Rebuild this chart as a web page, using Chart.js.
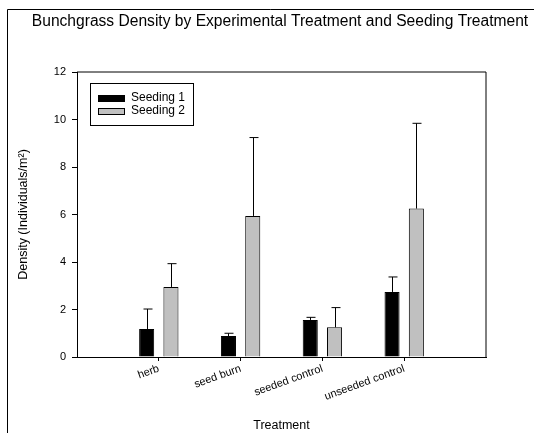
<!DOCTYPE html>
<html>
<head>
<meta charset="utf-8">
<script src="https://cdn.jsdelivr.net/npm/chart.js@4"></script>
<style>
  html, body { margin: 0; padding: 0; background: #fff; }
  canvas { display: block; }
</style>
</head>
<body>
<canvas id="chart" width="534" height="433"></canvas>
<script>
const FONT = "'Liberation Sans', Arial, sans-serif";

const TITLE = 'Bunchgrass Density by Experimental Treatment and Seeding Treatment';
const categories = ['herb', 'seed burn', 'seeded control', 'unseeded control'];
const seriesNames = ['Seeding 1', 'Seeding 2'];
const seeding1 = [1.18, 0.88, 1.56, 2.74];
const seeding2 = [2.95, 5.94, 1.25, 6.25];
// upper error bar lengths
const seeding1Err = [0.84, 0.12, 0.11, 0.63];
const seeding2Err = [0.98, 3.30, 0.83, 3.59];
const yTicks = [0, 2, 4, 6, 8, 10, 12];

const errors = [seeding1Err, seeding2Err];

// ── outer frame, title, plot box ──
const framePlugin = {
  id: 'frame',
  beforeDraw(chart) {
    const ctx = chart.ctx;
    ctx.save();
    ctx.fillStyle = '#fff';
    ctx.fillRect(0, 0, chart.width, chart.height);
    ctx.strokeStyle = '#000';
    ctx.lineWidth = 1;
    ctx.beginPath();
    ctx.moveTo(7.5, chart.height);
    ctx.lineTo(7.5, 9.5);
    ctx.lineTo(chart.width, 9.5);
    ctx.stroke();
    ctx.fillStyle = '#000';
    ctx.font = '15.6px ' + FONT;
    ctx.textAlign = 'center';
    ctx.textBaseline = 'middle';
    ctx.fillText(TITLE, 280, 22);
    ctx.restore();
  },
  afterDraw(chart) {
    const { ctx, chartArea: a } = chart;
    ctx.save();
    ctx.strokeStyle = '#000';
    ctx.lineWidth = 1;
    ctx.beginPath();
    ctx.moveTo(a.left, a.top);
    ctx.lineTo(a.right, a.top);
    ctx.lineTo(a.right, a.bottom);
    ctx.stroke();

    // legend box
    ctx.strokeRect(90.5, 83.5, 103, 42);
    const fills = ['#000', '#c0c0c0'];
    ctx.font = '12px ' + FONT;
    ctx.textBaseline = 'middle';
    ctx.textAlign = 'left';
    seriesNames.forEach((name, i) => {
      const y = 95 + i * 13;
      ctx.fillStyle = fills[i];
      ctx.fillRect(98, y, 27, 6);
      ctx.strokeRect(98.5, y + 0.5, 26, 6);
      ctx.fillStyle = '#000';
      ctx.fillText(name, 131, y + 3);
    });
    ctx.restore();
  }
};

// ── upper error bars ──
const errorBarPlugin = {
  id: 'errorBars',
  afterDatasetsDraw(chart) {
    const ctx = chart.ctx;
    const yScale = chart.scales.y;
    ctx.save();
    ctx.strokeStyle = '#000';
    ctx.lineWidth = 1;
    chart.data.datasets.forEach((ds, di) => {
      const meta = chart.getDatasetMeta(di);
      meta.data.forEach((bar, i) => {
        const v = ds.data[i].y;
        const top = yScale.getPixelForValue(v + errors[di][i]);
        const x = Math.round(bar.x) + 0.5;
        ctx.beginPath();
        ctx.moveTo(x, bar.y);
        ctx.lineTo(x, top);
        ctx.moveTo(x - 4, top);
        ctx.lineTo(x + 5, top);
        ctx.stroke();
      });
    });
    ctx.restore();
  }
};

new Chart(document.getElementById('chart'), {
  type: 'bar',
  data: {
    datasets: [
      {
        label: seriesNames[0],
        data: seeding1.map((v, i) => ({ x: i + 1, y: v })),
        backgroundColor: '#000', borderColor: '#000', borderWidth: 1,
      },
      {
        label: seriesNames[1],
        data: seeding2.map((v, i) => ({ x: i + 1, y: v })),
        backgroundColor: '#c0c0c0', borderColor: '#000', borderWidth: 1,
      },
    ],
  },
  options: {
    responsive: false,
    animation: false,
    categoryPercentage: 0.594,
    barPercentage: 0.62,
    layout: { padding: { top: 72, right: 48, left: 0, bottom: 0 } },
    plugins: { legend: { display: false }, tooltip: { enabled: false }, title: { display: false } },
    scales: {
      x: {
        type: 'linear',
        min: 0, max: 5,
        offset: false,
        afterBuildTicks: s => { s.ticks = categories.map((c, i) => ({ value: i + 1 })); },
        afterFit: s => { s.height = 76; },
        ticks: {
          autoSkip: false,
          minRotation: 20, maxRotation: 20,
          padding: 1,
          color: '#000',
          font: { family: FONT, size: 11 },
          callback: v => categories[v - 1] || '',
        },
        grid: { offset: false, drawOnChartArea: false, tickLength: 4, tickColor: '#000' },
        border: { color: '#000' },
        title: {
          display: true, text: 'Treatment', color: '#000',
          font: { family: FONT, size: 12.5 }, padding: { top: 0, bottom: 0 },
        },
      },
      y: {
        min: 0, max: 12,
        afterBuildTicks: s => { s.ticks = yTicks.map(v => ({ value: v })); },
        afterFit: s => { s.width = 77; },
        ticks: { padding: 6, color: '#000', font: { family: FONT, size: 11 } },
        grid: { drawOnChartArea: false, tickLength: 5, tickColor: '#000' },
        border: { color: '#000' },
        title: {
          display: true, text: 'Density (Individuals/m²)', color: '#000',
          font: { family: FONT, size: 12.5 }, padding: { top: 16, bottom: 0 },
        },
      },
    },
  },
  plugins: [framePlugin, errorBarPlugin],
});
</script>
</body>
</html>
